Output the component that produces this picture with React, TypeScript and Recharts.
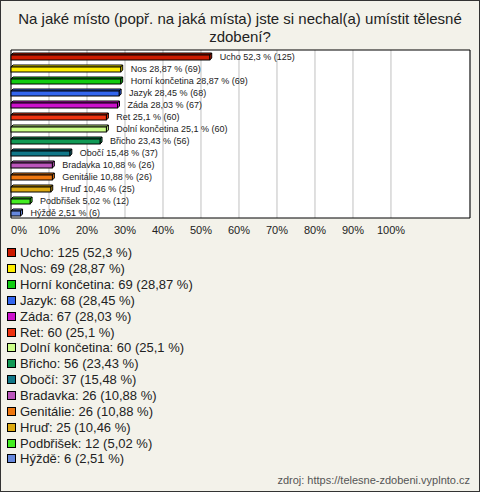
import { BarChart, Bar, XAxis, YAxis, CartesianGrid, Cell, LabelList, ReferenceArea } from 'recharts';

const categories = [
  'Ucho', 'Nos', 'Horní končetina', 'Jazyk', 'Záda', 'Ret', 'Dolní končetina',
  'Břicho', 'Obočí', 'Bradavka', 'Genitálie', 'Hruď', 'Podbřišek', 'Hýždě',
];
const counts = [125, 69, 69, 68, 67, 60, 60, 56, 37, 26, 26, 25, 12, 6];
const percents = [52.3, 28.87, 28.87, 28.45, 28.03, 25.1, 25.1, 23.43, 15.48, 10.88, 10.88, 10.46, 5.02, 2.51];
const colors = [
  '#cc1a00', '#ffee00', '#11cc11', '#3366ee', '#cc11cc', '#ee3311', '#ccff88',
  '#119955', '#117788', '#bb55bb', '#ee7711', '#ddaa11', '#44ee22', '#6688dd',
];
const ticks = [0, 10, 20, 30, 40, 50, 60, 70, 80, 90, 100];

const FONT = '"Liberation Sans", Arial, sans-serif';
const fmt = (v: number) => String(v).replace('.', ',');

const data = categories.map((name, i) => ({
  name,
  value: percents[i],
  count: counts[i],
  color: colors[i],
}));

function Bar3D(props: any) {
  const { x, y, width, height, fill } = props;
  const d = 2;
  const fy = y + d;
  const fh = height - d;
  return (
    <g stroke="#000" strokeWidth={1}>
      <polygon points={`${x},${fy} ${x + d},${y} ${x + width + d},${y} ${x + width},${fy}`} fill={fill} />
      <polygon
        points={`${x + width},${fy} ${x + width + d},${y} ${x + width + d},${y + fh} ${x + width},${fy + fh}`}
        fill={fill}
      />
      <rect x={x} y={fy} width={width} height={fh} fill={fill} />
    </g>
  );
}

function Tick(props: any) {
  const { x, y, payload } = props;
  const first = payload.value === 0;
  return (
    <text x={x} y={y} dy={8} textAnchor={first ? 'start' : 'middle'} fontSize={11} fill="#222" fontFamily={FONT}>
      {payload.value}%
    </text>
  );
}

function BarLabel(props: any) {
  const { x, y, width, height, index } = props;
  return (
    <text x={x + width + 10} y={y + height / 2 + 3.5} fontSize={9} fill="#222" fontFamily={FONT}>
      {`${categories[index]} ${fmt(percents[index])} % (${counts[index]})`}
    </text>
  );
}

export default function App() {
  return (
    <div
      style={{
        position: 'absolute',
        left: 0,
        top: 0,
        width: 480,
        height: 492,
        boxSizing: 'border-box',
        border: '1px solid #333',
        background: '#f3f2ea',
        fontFamily: FONT,
        overflow: 'hidden',
      }}
    >
      <div
        style={{
          position: 'absolute',
          left: 0,
          top: 9,
          width: 478,
          textAlign: 'center',
          fontSize: 15,
          lineHeight: '18px',
          color: '#222',
        }}
      >
        Na jaké místo (popř. na jaká místa) jste si nechal(a) umístit tělesné
        <br />
        zdobení?
      </div>
      <div style={{ position: 'absolute', left: -1, top: -1 }}>
        <BarChart
          width={480}
          height={250}
          data={data}
          layout="vertical"
          margin={{ top: 50, right: 10, left: 11, bottom: 0 }}
          barCategoryGap={0}
        >
          <CartesianGrid horizontal={false} stroke="#c0c0c0" fill="#ffffff" />
          <XAxis
            type="number"
            dataKey="value"
            domain={[0, 120.8]}
            ticks={ticks}
            axisLine={false}
            tickLine={false}
            height={32}
            tick={<Tick />}
            interval={0}
          />
          <YAxis type="category" dataKey="name" hide />
          <ReferenceArea x1={0} x2={120.8} fill="none" stroke="#000" strokeWidth={1} ifOverflow="visible" />
          <Bar dataKey="value" barSize={7} shape={<Bar3D />} isAnimationActive={false}>
            {data.map((d, i) => (
              <Cell key={`cell-${i}`} fill={d.color} />
            ))}
            <LabelList dataKey="value" content={<BarLabel />} />
          </Bar>
        </BarChart>
      </div>
      <div style={{ position: 'absolute', left: 6, top: 244 }}>
        {data.map((d) => (
          <div key={d.name} style={{ height: 15.85, display: 'flex', alignItems: 'center', fontSize: 13, color: '#222' }}>
            <span
              style={{
                display: 'inline-block',
                width: 7,
                height: 7,
                border: '1px solid #000',
                background: d.color,
                marginRight: 4,
              }}
            />
            {`${d.name}: ${d.count} (${fmt(d.value)} %)`}
          </div>
        ))}
      </div>
      <div
        style={{
          position: 'absolute',
          right: 9,
          top: 473,
          fontSize: 11,
          color: '#555',
        }}
      >
        zdroj: https://telesne-zdobeni.vyplnto.cz
      </div>
    </div>
  );
}
